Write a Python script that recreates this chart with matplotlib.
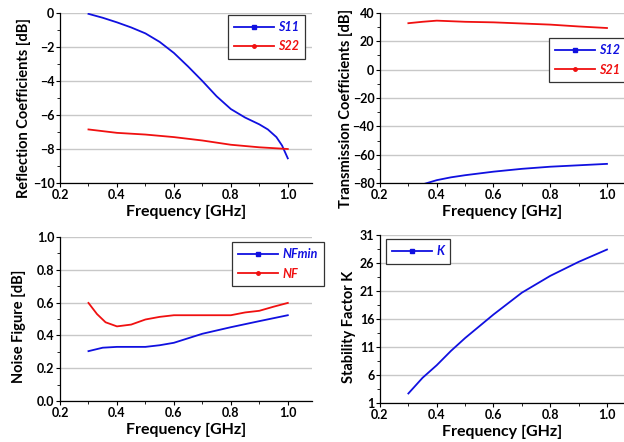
import matplotlib
matplotlib.use("Agg")
import matplotlib.pyplot as plt
import numpy as np
from matplotlib.ticker import MultipleLocator, FixedLocator, FormatStrFormatter

# --- data ------------------------------------------------------------------
freq_s11 = [0.30, 0.35, 0.40, 0.45, 0.50, 0.55, 0.60, 0.65, 0.70, 0.75, 0.80, 0.85, 0.90, 0.93, 0.96, 0.98, 1.00]
s11 = [-0.05, -0.28, -0.55, -0.85, -1.2, -1.7, -2.35, -3.15, -4.0, -4.9, -5.65, -6.15, -6.55, -6.85, -7.3, -7.8, -8.55]
freq_s22 = [0.30, 0.40, 0.50, 0.60, 0.70, 0.80, 0.90, 1.00]
s22 = [-6.85, -7.05, -7.15, -7.3, -7.5, -7.75, -7.9, -8.0]

freq_t = [0.30, 0.35, 0.40, 0.45, 0.50, 0.60, 0.70, 0.80, 0.90, 1.00]
s12 = [-85.0, -81.0, -78.0, -76.0, -74.5, -72.0, -70.0, -68.5, -67.5, -66.5]
s21 = [32.8, 33.8, 34.6, 34.2, 33.8, 33.4, 32.6, 31.8, 30.5, 29.4]

freq_nf = [0.30, 0.33, 0.36, 0.40, 0.45, 0.50, 0.55, 0.60, 0.70, 0.80, 0.85, 0.90, 0.95, 1.00]
nf = [0.598, 0.53, 0.48, 0.455, 0.466, 0.497, 0.513, 0.523, 0.523, 0.523, 0.54, 0.55, 0.575, 0.598]
freq_nfmin = [0.30, 0.35, 0.40, 0.50, 0.55, 0.60, 0.70, 0.80, 0.90, 1.00]
nfmin = [0.304, 0.325, 0.33, 0.33, 0.34, 0.355, 0.41, 0.45, 0.487, 0.523]

freq_k = [0.30, 0.35, 0.40, 0.45, 0.50, 0.55, 0.60, 0.70, 0.80, 0.90, 1.00]
k = [2.7, 5.5, 7.75, 10.3, 12.6, 14.7, 16.8, 20.7, 23.7, 26.2, 28.4]

xticks = [0.2, 0.4, 0.6, 0.8, 1.0]
k_ticks = [1, 6, 11, 16, 21, 26, 31]

plt.rcParams["font.family"] = ["Lato", "DejaVu Sans"]
plt.rcParams["font.weight"] = "bold"

BLUE = "#1010e0"
RED = "#f01010"

fig = plt.figure(figsize=(6.24, 4.42), dpi=100)
W, H = 624, 442


def make_ax(left, right, top, bottom):
    return fig.add_axes([left / W, 1 - bottom / H, (right - left) / W, (bottom - top) / H])


def style(ax, xmax, ymin, ymax, ymajor, ylabel, lab_x, lab_y):
    ax.set_xlim(0.2, xmax)
    ax.set_ylim(ymin, ymax)
    ax.xaxis.set_major_locator(FixedLocator(xticks))
    ax.set_xticklabels([f"{v:.1f}" for v in xticks])
    ax.xaxis.set_minor_locator(MultipleLocator(0.1))
    ax.yaxis.set_major_locator(MultipleLocator(ymajor))
    ax.yaxis.set_minor_locator(MultipleLocator(ymajor / 2))
    for s in ["top", "right"]:
        ax.spines[s].set_visible(False)
    for s in ["left", "bottom"]:
        ax.spines[s].set_linewidth(0.9)
    ax.tick_params(axis="both", which="major", labelsize=9, length=3, width=0.8, pad=1)
    ax.tick_params(axis="both", which="minor", length=2, width=0.6)
    ax.grid(True, axis="y", color="#c8c8c8", lw=1)
    ax.set_axisbelow(True)
    ax.set_xlabel("Frequency [GHz]", fontsize=11.5, fontweight="bold", labelpad=3)
    ax.set_ylabel(ylabel, fontsize=10.5, fontweight="bold")
    ax.yaxis.set_label_coords(lab_x, lab_y)


def legend(ax, x, y, colors):
    leg = ax.legend(loc="upper left", bbox_to_anchor=(x, y), borderaxespad=0,
                    fancybox=False, framealpha=1, edgecolor="#333333",
                    prop={"style": "italic", "weight": "bold", "size": 9},
                    handlelength=3.2, handletextpad=0.3, borderpad=0.5, labelspacing=0.6)
    leg.get_frame().set_linewidth(0.9)
    for t, c in zip(leg.get_texts(), colors):
        t.set_color(c)


# Reflection coefficients
ax1 = make_ax(60, 312, 13, 183)
ax1.plot(freq_s11, s11, color=BLUE, lw=1.3, label="S11", marker="s", markersize=2.5, markevery=[])
ax1.plot(freq_s22, s22, color=RED, lw=1.3, label="S22", marker="o", markersize=2.5, markevery=[])
style(ax1, 1.085, -10, 0, 2, "Reflection Coefficients [dB]", -0.115, 0.44)
legend(ax1, 0.667, 0.99, [BLUE, RED])

# Transmission coefficients
ax2 = make_ax(380, 624, 13, 183)
ax2.plot(freq_t, s12, color=BLUE, lw=1.3, label="S12", marker="s", markersize=2.5, markevery=[])
ax2.plot(freq_t, s21, color=RED, lw=1.3, label="S21", marker="o", markersize=2.5, markevery=[])
style(ax2, 1.06, -80, 40, 20, "Transmission Coefficients [dB]", -0.11, 0.44)
legend(ax2, 0.693, 0.853, [BLUE, RED])

# Noise figure
ax3 = make_ax(60, 312, 237, 401)
ax3.plot(freq_nfmin, nfmin, color=BLUE, lw=1.3, label="NFmin", marker="s", markersize=2.5, markevery=[])
ax3.plot(freq_nf, nf, color=RED, lw=1.3, label="NF", marker="o", markersize=2.5, markevery=[])
style(ax3, 1.085, 0, 1.0, 0.2, "Noise Figure [dB]", -0.135, 0.457)
ax3.yaxis.set_major_formatter(FormatStrFormatter("%.1f"))
legend(ax3, 0.683, 0.97, [BLUE, RED])

# Stability factor
ax4 = make_ax(380, 624, 235, 403)
ax4.plot(freq_k, k, color=BLUE, lw=1.3, label="K", marker="s", markersize=2.5, markevery=[])
style(ax4, 1.06, 1, 31, 5, "Stability Factor K", -0.098, 0.452)
ax4.yaxis.set_major_locator(FixedLocator(k_ticks))
ax4.yaxis.set_minor_locator(FixedLocator(np.arange(1, 31.1, 2.5)))
legend(ax4, 0.025, 0.976, [BLUE])

fig.savefig("out.png", dpi=100)
